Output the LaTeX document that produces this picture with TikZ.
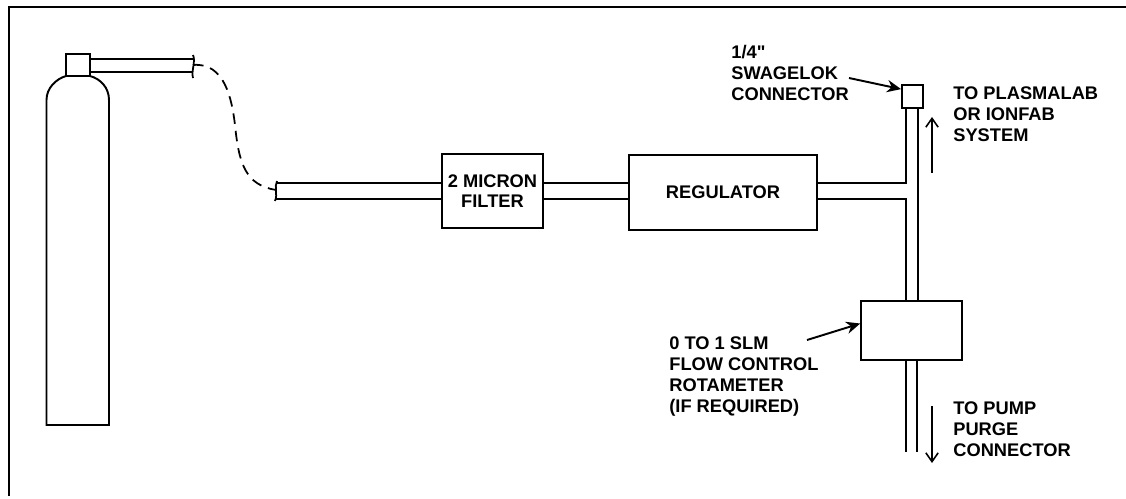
\documentclass[tikz,border=0pt]{standalone}
\usepackage{fontspec}
\setmainfont{Liberation Sans}[Ligatures=TeXOff]
\usetikzlibrary{positioning, arrows.meta, calc}
\begin{document}
\begin{tikzpicture}[
  x=0.02cm, y=-0.02cm,
  part/.style={draw=black, line width=1.1pt, fill=white, inner sep=0pt, align=center, font=\fontsize{10.4}{11.6}\selectfont\bfseries},
  pipe/.style={draw=black, line width=1pt},
  lbl/.style={font=\fontsize{10.4}{11.95}\selectfont\bfseries, align=left, anchor=north west, inner sep=0pt},
  arr/.style={-{Stealth[length=8pt, width=7pt]}, line width=1.1pt},
  flow/.style={-{Straight Barb[length=5pt, width=7pt]}, line width=0.9pt}
]
  \useasboundingbox (0,0) rectangle (1126,498);

  % sheet border, no right hand side in the scan
  \coordinate (framebl) at (9,496);
  \coordinate (frametl) at (9,7);
  \coordinate (frametr) at (1126,7);
  \draw[line width=1.1pt] (framebl) -- (frametl) -- (frametr);

  \node[part, minimum width=13.6pt, minimum height=12.5pt] (valve) at (78,65) {};
  \node[part, minimum width=57.3pt, minimum height=42.5pt] (filter) at (492.5,191) {2 MICRON\\FILTER};
  \node[part, minimum width=106.6pt, minimum height=42.5pt] (regulator) at (723,192.5) {REGULATOR};
  \node[part, minimum width=11.9pt, minimum height=13pt] (swagelok) at (912.5,96.5) {};
  \node[part, minimum width=57.3pt, minimum height=33.5pt] (rotameter) at (911.5,330.5) {};

  % cylinder
  \draw[pipe, line width=1.1pt] (46.5,425) -- (46.5,100) .. controls (46.5,88) and (56,79) .. (66,76)
    -- (90,76) .. controls (101,79) and (109,88) .. (109,100) -- (109,425) -- cycle;

  % pipe ends
  \coordinate (hosestart) at (193,65);
  \coordinate (hoseend) at (276,190);
  \draw[pipe] (valve.east |- 0,59) -- (hosestart |- 0,59);
  \draw[pipe] (valve.east |- 0,72) -- (hosestart |- 0,72);
  \draw[pipe] ($(hosestart)+(0,-10)$) .. controls ($(hosestart)+(3,-4)$) and ($(hosestart)+(-2,6)$) .. ($(hosestart)+(0,13)$);
  \draw[pipe] ($(hoseend)+(1,-9)$) .. controls ($(hoseend)+(-2,-3)$) and ($(hoseend)+(2,4)$) .. ($(hoseend)+(-1,11)$);
  \draw[pipe, dash pattern=on 6pt off 4pt] (hosestart) .. controls (225,62) and (232,100) .. (235,125)
    .. controls (239,165) and (246,185) .. (hoseend);

  % main line
  \draw[pipe] (hoseend |- 0,183) -- (filter.west |- 0,183);
  \draw[pipe, line width=1.5pt] (hoseend |- 0,199) -- (filter.west |- 0,199);
  \draw[pipe] (filter.east |- 0,183) -- (regulator.west |- 0,183);
  \draw[pipe] (filter.east |- 0,199) -- (regulator.west |- 0,199);
  \coordinate (teetop) at (906,183);
  \coordinate (teebot) at (906,199);
  \draw[pipe] (regulator.east |- teetop) -- (teetop) -- (teetop |- swagelok.south);
  \draw[pipe] (regulator.east |- teebot) -- (teebot) -- (teebot |- rotameter.north);
  \coordinate (riser) at (918,108);
  \draw[pipe] (riser) -- (riser |- rotameter.north);
  \coordinate (purgeleft) at (906,452);
  \coordinate (purgeright) at (917,452);
  \draw[pipe] (purgeleft |- rotameter.south) -- (purgeleft);
  \draw[pipe] (purgeright |- rotameter.south) -- (purgeright);

  % labels
  \node[lbl] (fittinglbl) at (731,45) {1/4"\\SWAGELOK\\CONNECTOR};
  \node[lbl] (systemlbl) at (953,86.5) {TO PLASMALAB\\OR IONFAB\\SYSTEM};
  \node[lbl] (flowlbl) at (669,336) {0 TO 1 SLM\\FLOW CONTROL\\ROTAMETER\\(IF REQUIRED)};
  \node[lbl] (pumplbl) at (953,401) {TO PUMP\\PURGE\\CONNECTOR};

  \coordinate (fittingtail) at (849,78);
  \coordinate (flowtail) at (807,340);
  \coordinate (uptail) at (932,173);
  \coordinate (uphead) at (932,117);
  \coordinate (downtail) at (932,406);
  \coordinate (downhead) at (932,463);
  \draw[arr] (fittingtail) -- ($(swagelok.north west)+(0,5)$);
  \draw[arr] (flowtail) -- ($(rotameter.west)+(0,-7)$);
  \draw[flow] (uptail) -- (uphead);
  \draw[flow] (downtail) -- (downhead);
\end{tikzpicture}
\end{document}
